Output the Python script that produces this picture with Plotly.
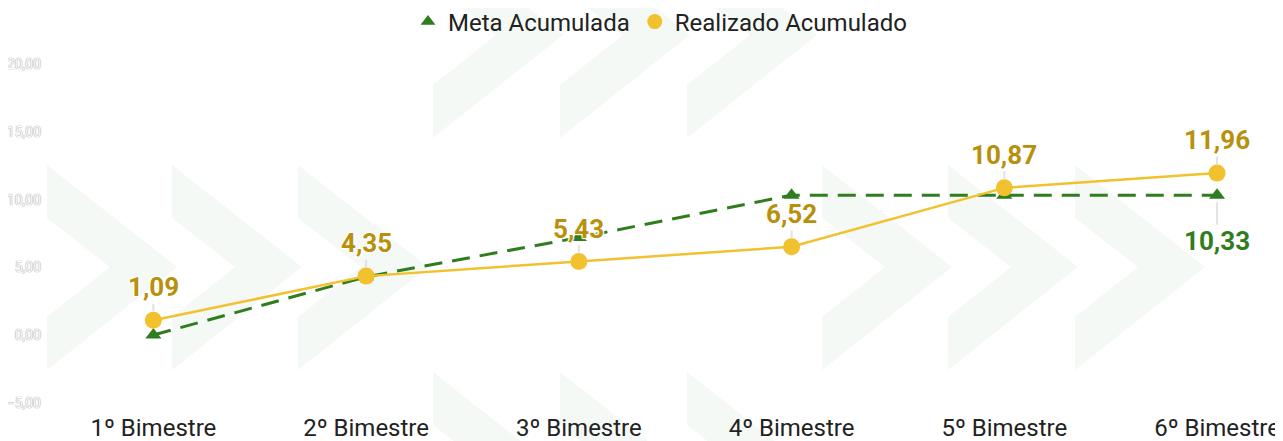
import plotly.graph_objects as go

# Chart data
bimestres = ["1º Bimestre", "2º Bimestre", "3º Bimestre", "4º Bimestre", "5º Bimestre", "6º Bimestre"]
meta_acumulada = [0.0, 4.3, 7.2, 10.33, 10.33, 10.33]
realizado_acumulado = [1.09, 4.35, 5.43, 6.52, 10.87, 11.96]
y_ticks = [-5, 0, 5, 10, 15, 20]

GREEN = "#2f7d1f"
YELLOW = "#f2c12e"
GOLD = "#b8900b"

# the page body keeps its default 8px margin, so the figure is 8px smaller
# and every page-pixel position below is shifted by OFF
OFF = 8
FW, FH = 1283 - OFF, 441 - OFF
L = 47 - OFF
PW = FW - L
PLOT_TOP, PLOT_BOTTOM = 45, 411  # page pixels of the plotting area
PX_PER_UNIT = 13.535
ZERO_Y = 335  # page pixel of y = 0


def fmt(v):
    return f"{v:.2f}".replace(".", ",")


def px_to_paper(px, py):
    return (px - OFF - L) / PW, (FH - (py - OFF)) / FH


def chevron(x0, yc):
    # ">" shaped watermark in page pixels, converted to paper coordinates
    pts = [(x0, yc - 102), (x0 + 130, yc), (x0, yc + 103),
           (x0, yc + 50), (x0 + 63, yc), (x0, yc - 49)]
    pts = [px_to_paper(x, y) for x, y in pts]
    path = "M " + " L ".join(f"{x:.4f},{y:.4f}" for x, y in pts) + " Z"
    return dict(type="path", xref="paper", yref="paper", path=path,
                fillcolor="#f5f9f5", line=dict(width=0), layer="below")


x_idx = list(range(len(bimestres)))

fig = go.Figure()

# Meta (dashed green, triangles)
fig.add_trace(go.Scatter(x=x_idx, y=meta_acumulada, mode="lines+markers",
                         name="Meta Acumulada", showlegend=False,
                         line=dict(color=GREEN, width=3, dash="18px,10px"),
                         marker=dict(symbol="triangle-up", size=14, color=GREEN)))

# Realizado (solid yellow, circles)
fig.add_trace(go.Scatter(x=x_idx, y=realizado_acumulado, mode="lines+markers",
                         name="Realizado Acumulado", showlegend=False,
                         line=dict(color=YELLOW, width=2.5),
                         marker=dict(symbol="circle", size=17, color=YELLOW)))

# Legend entries with marker only
fig.add_trace(go.Scatter(x=[None], y=[None], mode="markers", name="Meta Acumulada",
                         marker=dict(symbol="triangle-up", size=13, color=GREEN)))
fig.add_trace(go.Scatter(x=[None], y=[None], mode="markers", name="Realizado Acumulado",
                         marker=dict(symbol="circle", size=15, color=YELLOW)))

halo = "1px 1px 1px #fff, -1px -1px 1px #fff, 1px -1px 1px #fff, -1px 1px 1px #fff"

annotations = []
for i, v in enumerate(realizado_acumulado):
    annotations.append(dict(x=i, y=v, xref="x", yref="y", text=fmt(v),
                            showarrow=True, ax=0, ay=-33, arrowhead=0,
                            arrowwidth=2, arrowcolor="#e2e2e2", standoff=9,
                            font=dict(family="Roboto", size=26, color=GOLD,
                                      weight="bold", shadow=halo)))

# Only the last goal value is labelled
last = len(meta_acumulada) - 1
annotations.append(dict(x=last, y=meta_acumulada[last], xref="x", yref="y",
                        text=fmt(meta_acumulada[last]),
                        showarrow=True, ax=0, ay=46, arrowhead=0,
                        arrowwidth=2, arrowcolor="#e2e2e2", standoff=7,
                        font=dict(family="Roboto", size=26, color=GREEN,
                                  weight="bold", shadow=halo)))

# Background chevrons
shapes = []
for x0 in [47, 172, 298, 822, 948, 1075]:
    shapes.append(chevron(x0, 267))
for x0 in [433, 560, 687]:
    shapes.append(chevron(x0, 35))
    shapes.append(chevron(x0, 474))

fig.update_layout(
    width=FW, height=FH,
    margin=dict(l=L, r=0, t=0, b=0, autoexpand=False),
    paper_bgcolor="white", plot_bgcolor="rgba(0,0,0,0)",
    separators=",.",
    font=dict(family="Roboto", color="#222222"),
    showlegend=True,
    legend=dict(orientation="h", x=(660 - OFF - L) / PW, xanchor="center",
                y=(FH - (22 - OFF)) / FH, yanchor="middle",
                font=dict(size=24, color="#222222"), bgcolor="rgba(0,0,0,0)"),
    annotations=annotations,
    shapes=shapes,
)

fig.update_xaxes(range=[-0.5, 5.31], tickvals=x_idx, ticktext=bimestres,
                 automargin=False, showgrid=False, zeroline=False, showline=False,
                 tickfont=dict(size=24, color="#222222"))

fig.update_yaxes(domain=[(FH - (PLOT_BOTTOM - OFF)) / FH, (FH - (PLOT_TOP - OFF)) / FH],
                 range=[(ZERO_Y - PLOT_BOTTOM) / PX_PER_UNIT, (ZERO_Y - PLOT_TOP) / PX_PER_UNIT],
                 tickvals=y_ticks, tickformat=".2f", automargin=False,
                 ticklabelstandoff=5,
                 showgrid=False, zeroline=False, showline=False,
                 tickfont=dict(size=14, color="white",
                               shadow="0px 0px 1px #999, 0px 0px 1px #999"))

fig.write_html("out.html")
